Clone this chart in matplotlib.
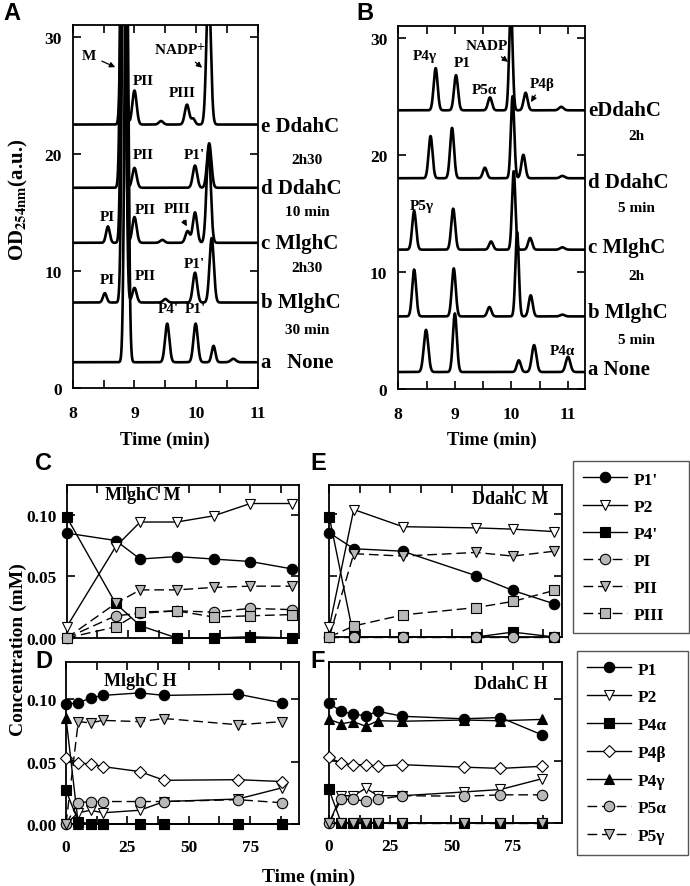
import numpy as np
import matplotlib
matplotlib.use("Agg")
import matplotlib.pyplot as plt

plt.rcParams["font.family"] = ["Liberation Serif", "DejaVu Serif"]
plt.rcParams["font.weight"] = "bold"
plt.rcParams["mathtext.fontset"] = "stix"

W, H = 690, 887

# ---- chromatograms (panel A) : baseline, peak centres, heights, widths ----
A_names = ["a", "b", "c", "d", "e"]
A_base = [2.2, 7.3, 12.4, 17.1, 22.5]
A_pos = [[8.87, 9.53, 9.99, 10.28, 10.60],
         [8.52, 8.83, 9.00, 9.50, 9.98, 10.25],
         [8.57, 8.82, 9.00, 9.45, 9.86, 9.98, 10.20],
         [8.81, 9.00, 9.98, 10.21],
         [8.82, 9.00, 9.43, 9.85, 9.95, 10.20]]
A_height = [[40, 3.3, 3.3, 1.4, 0.3],
            [0.8, 40, 1.25, 0.3, 2.55, 5.5],
            [1.4, 40, 2.2, 0.25, 1.0, 2.6, 8.0],
            [40, 1.7, 1.9, 3.8],
            [40, 2.9, 0.3, 1.7, 0.5, 12]]
A_sigma = [[0.03, 0.035, 0.035, 0.03, 0.04],
           [0.03, 0.03, 0.035, 0.035, 0.035, 0.035],
           [0.03, 0.03, 0.035, 0.035, 0.035, 0.035, 0.035],
           [0.03, 0.035, 0.035, 0.035],
           [0.03, 0.035, 0.035, 0.035, 0.03, 0.035]]

# ---- chromatograms (panel B) ----
B_base = [1.45, 6.2, 11.9, 18.0, 23.8]
B_pos = [[8.49, 9.00, 10.13, 10.40, 11.00],
         [8.28, 8.98, 9.61, 10.10, 10.34, 10.90],
         [8.28, 8.97, 9.64, 10.04, 10.33, 10.90],
         [8.57, 8.95, 9.53, 10.02, 10.21, 10.90],
         [8.66, 9.02, 9.62, 9.99, 10.25, 10.88]]
B_height = [[3.6, 5.0, 1.0, 2.3, 1.3],
            [4.0, 4.1, 0.8, 7.2, 1.8, 0.15],
            [3.3, 3.5, 0.7, 6.7, 1.0, 0.2],
            [3.6, 4.3, 0.9, 7.0, 2.0, 0.2],
            [3.6, 3.0, 1.1, 9.0, 1.5, 0.3]]
B_sigma = [[0.04, 0.035, 0.035, 0.04, 0.04],
           [0.035, 0.035, 0.035, 0.03, 0.035, 0.04],
           [0.035, 0.035, 0.035, 0.03, 0.035, 0.04],
           [0.035, 0.035, 0.035, 0.03, 0.035, 0.04],
           [0.035, 0.035, 0.035, 0.03, 0.035, 0.04]]

# ---- time courses ----
tC = [0, 20, 30, 45, 60, 75, 92]
C_P1p = [0.085, 0.079, 0.064, 0.066, 0.064, 0.062, 0.056]
C_P2 = [0.009, 0.074, 0.094, 0.094, 0.099, 0.109, 0.109]
C_P4p = [0.098, 0.028, 0.010, 0.0, 0.0, 0.001, 0.0]
C_PI = [0.0, 0.018, 0.020, 0.022, 0.021, 0.024, 0.023]
C_PII = [0.0, 0.028, 0.039, 0.039, 0.041, 0.042, 0.042]
C_PIII = [0.0, 0.009, 0.021, 0.022, 0.017, 0.018, 0.019]

tE = [0, 10, 30, 60, 75, 92]
E_P1p = [0.085, 0.072, 0.070, 0.050, 0.038, 0.027]
E_P2 = [0.008, 0.104, 0.090, 0.089, 0.088, 0.086]
E_P4p = [0.098, 0.0, 0.0, 0.0, 0.004, 0.0]
E_PI = [0.0, 0.0, 0.0, 0.0, 0.0, 0.0]
E_PII = [0.0, 0.068, 0.066, 0.069, 0.066, 0.070]
E_PIII = [0.0, 0.009, 0.018, 0.024, 0.029, 0.038]

tD = [0, 5, 10, 15, 30, 40, 70, 88]
D_P1 = [0.096, 0.097, 0.101, 0.103, 0.105, 0.103, 0.104, 0.097]
D_P2 = [0.0, 0.009, 0.011, 0.009, 0.011, 0.018, 0.020, 0.029]
D_P4a = [0.027, 0.002, 0.0, 0.0, 0.0, 0.0, 0.0, 0.0]
D_P4b = [0.053, 0.049, 0.048, 0.046, 0.042, 0.035, 0.0355, 0.034]
D_P4g = [0.085, 0.0, 0.0, 0.0, 0.0, 0.0, 0.0, 0.0]
D_P5a = [0.0, 0.017, 0.018, 0.018, 0.018, 0.018, 0.0195, 0.017]
D_P5g = [0.0, 0.082, 0.081, 0.083, 0.082, 0.0845, 0.0795, 0.082]

tF = [0, 5, 10, 15, 20, 30, 55, 70, 87]
F_P1 = [0.0965, 0.090, 0.0876, 0.0865, 0.090, 0.086, 0.084, 0.085, 0.071]
F_P2 = [0.0, 0.022, 0.022, 0.028, 0.022, 0.022, 0.025, 0.027, 0.0357]
F_P4a = [0.027, 0.0, 0.0, 0.0, 0.0, 0.0, 0.0, 0.0, 0.0]
F_P4b = [0.053, 0.048, 0.047, 0.047, 0.0457, 0.047, 0.045, 0.044, 0.0457]
F_P4g = [0.0835, 0.080, 0.0816, 0.078, 0.0824, 0.082, 0.083, 0.0824, 0.0835]
F_P5a = [0.0, 0.019, 0.019, 0.0176, 0.019, 0.022, 0.0216, 0.0227, 0.0227]
F_P5g = [0.0, 0.0, 0.0, 0.0, 0.0, 0.0, 0.0, 0.0, 0.0]

GRAY = "#b8b8b8"

fig = plt.figure(figsize=(W / 100, H / 100), dpi=100)


def add_ax(l, t, r, b):
    return fig.add_axes([l / W, 1 - b / H, (r - l) / W, (b - t) / H])


def ftext(x, y, s, **kw):
    fig.text(x / W, 1 - y / H, s, **kw)


def trace(x, base, pos, hgt, sig):
    y = np.full_like(x, base)
    for p, h, s in zip(pos, hgt, sig):
        y = y + h * np.exp(-0.5 * ((x - p) / s) ** 2)
    return y


def style_top(ax, xmax):
    ax.set_xlim(8, xmax)
    ax.set_ylim(0, 31)
    ax.set_xticks(np.arange(8, 11.01, 0.5))
    ax.set_xticklabels(["8", "", "9", "", "10", "", "11"])
    ax.set_yticks([0, 10, 20, 30])
    ax.tick_params(direction="in", top=True, right=True, length=6, width=1.2,
                   labelsize=12.5, pad=8)
    ax.tick_params(axis="x", pad=12)
    for s in ax.spines.values():
        s.set_linewidth(1.3)


# ---- panel A ----
axA = add_ax(72.7, 26, 258, 389)
x = np.linspace(8, 11, 3000)
for base, pos, hgt, sig in zip(A_base, A_pos, A_height, A_sigma):
    axA.plot(x, trace(x, base, pos, hgt, sig), color="black", lw=1.9)
style_top(axA, 11)

ann = dict(fontsize=11, ha="center", va="center")
arr = dict(arrowstyle="-|>", color="black", lw=0.9, mutation_scale=8)
axA.annotate("M", xy=(8.73, 27.3), xytext=(8.27, 28.4), arrowprops=arr, **ann)
axA.annotate(r"NADP$^{\mathbf{+}}$", xy=(10.13, 27.2), xytext=(9.74, 28.9), arrowprops=arr, **ann)
axA.text(9.15, 26.3, "PII", **ann)
axA.text(9.77, 25.2, "PIII", **ann)
axA.text(9.15, 19.9, "PII", **ann)
axA.text(9.97, 19.9, "P1'", **ann)
axA.text(8.56, 14.65, "PI", **ann)
axA.text(9.17, 15.25, "PII", **ann)
axA.annotate("PIII", xy=(9.87, 13.6), xytext=(9.69, 15.3), arrowprops=arr, **ann)
axA.text(8.56, 9.25, "PI", **ann)
axA.text(9.17, 9.6, "PII", **ann)
axA.text(9.97, 10.6, "P1'", **ann)
axA.text(9.55, 6.8, "P4'", **ann)
axA.text(9.98, 6.8, "P1'", **ann)

# ---- panel B ----
axB = add_ax(398.3, 27, 585, 390)
x = np.linspace(8, 11.3, 3000)
for base, pos, hgt, sig in zip(B_base, B_pos, B_height, B_sigma):
    axB.plot(x, trace(x, base, pos, hgt, sig), color="black", lw=1.9)
style_top(axB, 11.3)
axB.text(8.47, 28.5, "P4γ", **ann)
axB.text(9.13, 27.9, "P1", **ann)
axB.annotate("NADP", xy=(9.98, 27.8), xytext=(9.56, 29.3), arrowprops=arr, **ann)
axB.text(9.52, 25.6, "P5α", **ann)
axB.annotate("P4β", xy=(10.32, 24.3), xytext=(10.55, 26.1), arrowprops=arr, **ann)
axB.text(8.42, 15.7, "P5γ", **ann)
axB.text(10.9, 3.25, "P4α", **ann)

# trace labels
big = dict(fontsize=15, va="center", ha="left")
small = dict(fontsize=11, va="center", ha="center")
for s, yy in [("e DdahC", 127), ("d DdahC", 189), ("c MlghC", 244), ("b MlghC", 303), ("a   None", 363)]:
    ftext(261, yy, s, **big)
for s, yy in [("2h30", 160), ("10 min", 213), ("2h30", 268), ("30 min", 330)]:
    ftext(307, yy, s, **small)
for s, yy in [("eDdahC", 111), ("d DdahC", 183), ("c MlghC", 248), ("b MlghC", 313), ("a None", 370)]:
    ftext(588, yy, s, **big)
for s, yy in [("2h", 137), ("5 min", 209), ("2h", 276), ("5 min", 340)]:
    ftext(636, yy, s, **small)

ftext(18, 200, r"OD$_{\mathbf{254nm}}$(a.u.)", fontsize=15, rotation=90, ha="center", va="center")
ftext(165, 440, "Time (min)", fontsize=13.5, ha="center", va="center")
ftext(492, 440, "Time (min)", fontsize=13.5, ha="center", va="center")

sans = dict(family="Liberation Sans", fontsize=17, fontweight="bold", va="center", ha="left")
ftext(3, 14, "A", **sans)
ftext(356, 14, "B", **sans)
ftext(35, 463, "C", **sans)
ftext(310, 463, "E", **sans)
ftext(35, 661, "D", **sans)
ftext(310, 661, "F", **sans)


# ---- time-course panels ----
def series(ax, t, y, marker, face, dashed, label):
    ln, = ax.plot(t, y, color="black", lw=1.0, ls=(0, (7, 3.5)) if dashed else "-",
                  marker=marker, ms=7.5 if marker != "D" else 6.5, mfc=face, mec="black",
                  mew=0.8, clip_on=False, zorder=3, label=label)
    return ln


def style_bottom(ax, ytop, xlab, ylab):
    ax.set_xlim(0, 95)
    ax.set_ylim(0, ytop)
    ax.set_xticks(np.arange(0, 90, 12.5))
    ax.set_xticklabels(["0", "", "25", "", "50", "", "75", ""] if xlab else [])
    ax.set_yticks([0, 0.05, 0.10])
    ax.set_yticklabels(["0.00", "0.05", "0.10"] if ylab else [])
    ax.tick_params(direction="in", top=True, right=True, length=6, width=1.2,
                   labelsize=12.5, pad=7)
    ax.tick_params(axis="x", pad=11)
    for s in ax.spines.values():
        s.set_linewidth(1.3)


axC = add_ax(66.7, 486, 299.3, 639)
series(axC, tC, C_P1p, "o", "black", False, "P1'")
series(axC, tC, C_P2, "v", "white", False, "P2")
series(axC, tC, C_P4p, "s", "black", False, "P4'")
series(axC, tC, C_PI, "o", GRAY, True, "PI")
series(axC, tC, C_PII, "v", GRAY, True, "PII")
series(axC, tC, C_PIII, "s", GRAY, True, "PIII")
style_bottom(axC, 0.124, False, True)
ftext(143, 495, "MlghC M", fontsize=13, ha="center", va="center")

axE = add_ax(329.3, 486, 561.7, 638)
hE = [series(axE, tE, E_P1p, "o", "black", False, "P1'"),
      series(axE, tE, E_P2, "v", "white", False, "P2"),
      series(axE, tE, E_P4p, "s", "black", False, "P4'"),
      series(axE, tE, E_PI, "o", GRAY, True, "PI"),
      series(axE, tE, E_PII, "v", GRAY, True, "PII"),
      series(axE, tE, E_PIII, "s", GRAY, True, "PIII")]
style_bottom(axE, 0.124, False, False)
ftext(549, 500, "DdahC M", fontsize=13, ha="right", va="center")

axD = add_ax(66, 662.7, 299.3, 825)
series(axD, tD, D_P1, "o", "black", False, "P1")
series(axD, tD, D_P2, "v", "white", False, "P2")
series(axD, tD, D_P4a, "s", "black", False, "P4α")
series(axD, tD, D_P4b, "D", "white", False, "P4β")
series(axD, tD, D_P4g, "^", "black", False, "P4γ")
series(axD, tD, D_P5a, "o", GRAY, True, "P5α")
series(axD, tD, D_P5g, "v", GRAY, True, "P5γ")
style_bottom(axD, 0.130, True, True)
ftext(140, 681, "MlghC H", fontsize=13, ha="center", va="center")

axF = add_ax(329, 662.7, 561.7, 824)
hF = [series(axF, tF, F_P1, "o", "black", False, "P1"),
      series(axF, tF, F_P2, "v", "white", False, "P2"),
      series(axF, tF, F_P4a, "s", "black", False, "P4α"),
      series(axF, tF, F_P4b, "D", "white", False, "P4β"),
      series(axF, tF, F_P4g, "^", "black", False, "P4γ"),
      series(axF, tF, F_P5a, "o", GRAY, True, "P5α"),
      series(axF, tF, F_P5g, "v", GRAY, True, "P5γ")]
style_bottom(axF, 0.130, True, False)
ftext(548, 685, "DdahC H", fontsize=13, ha="right", va="center")

ftext(18, 650, "Concentration (mM)", fontsize=14, rotation=90, ha="center", va="center")
ftext(309, 877, "Time (min)", fontsize=14, ha="center", va="center")

leg_kw = dict(loc="upper left", bbox_transform=fig.transFigure, fancybox=False,
              edgecolor="#555555", framealpha=1, fontsize=12.5, handlelength=2.5,
              handletextpad=0.4, borderpad=0.6, borderaxespad=0, mode="expand")
lg1 = fig.legend(handles=hE, labelspacing=0.63,
                 bbox_to_anchor=(573 / W, 1 - 631 / H, 116 / W, 169 / H), **leg_kw)
lg2 = fig.legend(handles=hF, labelspacing=0.67,
                 bbox_to_anchor=(577 / W, 1 - 853 / H, 111 / W, 201 / H), **leg_kw)
for lg in (lg1, lg2):
    lg.get_frame().set_linewidth(1.0)

fig.savefig("out.png", dpi=100)
